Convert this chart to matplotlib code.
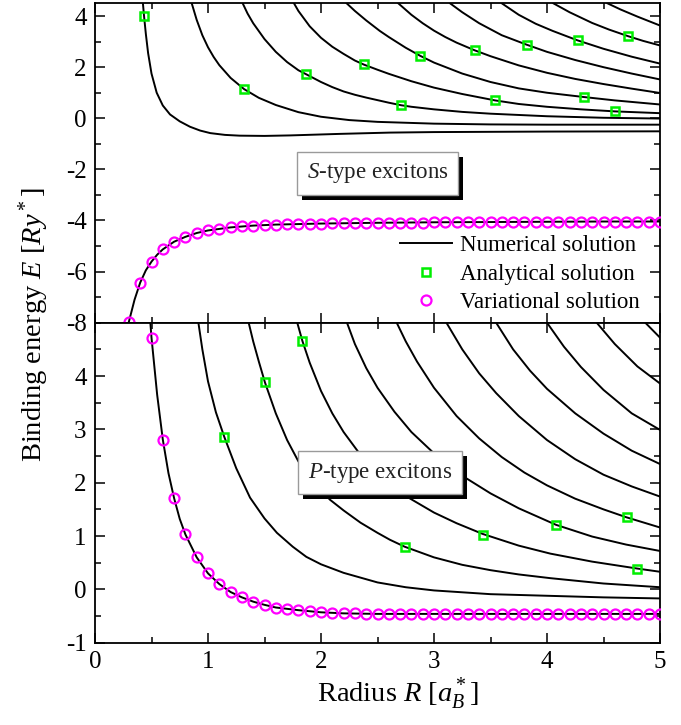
import numpy as np
import matplotlib
matplotlib.use('Agg')
import matplotlib.pyplot as plt
from matplotlib.ticker import MultipleLocator, FixedLocator
from matplotlib.lines import Line2D
from matplotlib.patches import Rectangle
from matplotlib.transforms import IdentityTransform

plt.rcParams['font.family'] = ['Liberation Serif', 'DejaVu Serif']
plt.rcParams['mathtext.fontset'] = 'custom'
plt.rcParams['mathtext.rm'] = 'Liberation Serif'
plt.rcParams['mathtext.it'] = 'Liberation Serif:italic'
plt.rcParams['mathtext.bf'] = 'Liberation Serif:bold'
plt.rcParams['axes.unicode_minus'] = False

# ---------------- S-type (top panel) data ----------------
s_var_R = [0.3, 0.4, 0.5, 0.6, 0.7, 0.8, 0.9, 1.0, 1.1, 1.2, 1.3, 1.4, 1.5, 1.6, 1.7, 1.8,
           1.9, 2.0, 2.1, 2.2, 2.3, 2.4, 2.5, 2.6, 2.7, 2.8, 2.9, 3.0, 3.1, 3.2, 3.3, 3.4,
           3.5, 3.6, 3.7, 3.8, 3.9, 4.0, 4.1, 4.2, 4.3, 4.4, 4.5, 4.6, 4.7, 4.8, 4.9, 5.0]
s_var_E = [-7.96, -6.43, -5.61, -5.13, -4.83, -4.64, -4.49, -4.39, -4.32, -4.27, -4.23, -4.20,
           -4.18, -4.16, -4.15, -4.14, -4.13, -4.12, -4.11, -4.11, -4.10, -4.10, -4.09, -4.09,
           -4.08, -4.08, -4.08, -4.07, -4.07, -4.07, -4.07, -4.06, -4.06, -4.06, -4.06, -4.06,
           -4.05, -4.05, -4.05, -4.05, -4.05, -4.05, -4.04, -4.04, -4.04, -4.04, -4.04, -4.04]
s_gnd_R = [0.28, 0.3, 0.35, 0.4, 0.45, 0.5, 0.55, 0.6, 0.7, 0.8, 0.9, 1.0, 1.2, 1.4, 1.6,
           1.8, 2.0, 2.5, 3.0, 3.5, 4.0, 4.5, 5.0]
s_gnd_E = [-8.4, -7.96, -7.1, -6.43, -5.95, -5.61, -5.34, -5.13, -4.83, -4.64, -4.49, -4.39,
           -4.27, -4.20, -4.16, -4.14, -4.12, -4.09, -4.07, -4.06, -4.05, -4.04, -4.04]

s_a_R = [0.424, 0.434, 0.45, 0.47, 0.50, 0.546, 0.60, 0.664, 0.75, 0.84, 0.93, 1.02, 1.15,
         1.28, 1.50, 1.73, 2.17, 2.61, 3.0, 3.5, 4.0, 5.0]
s_a_E = [4.5, 4.0, 3.3, 2.55, 1.75, 1.0, 0.5, 0.15, -0.12, -0.33, -0.48, -0.58, -0.65,
         -0.68, -0.69, -0.67, -0.61, -0.56, -0.54, -0.53, -0.52, -0.51]
s_b_R = [0.856, 0.9, 0.95, 1.0, 1.05, 1.1, 1.2, 1.32, 1.45, 1.6, 1.8, 2.0, 2.25, 2.5, 3.0,
         3.5, 4.0, 5.0]
s_b_E = [4.5, 3.85, 3.25, 2.78, 2.40, 2.08, 1.58, 1.14, 0.80, 0.52, 0.24, 0.06, -0.07,
         -0.14, -0.21, -0.24, -0.25, -0.25]
s_c_R = [1.307, 1.35, 1.4, 1.5, 1.6, 1.7, 1.8, 1.87, 2.0, 2.1, 2.2, 2.3, 2.4, 2.5, 2.6,
         2.71, 2.8, 3.0, 3.25, 3.5, 4.0, 4.5, 5.0]
s_c_E = [4.5, 4.1, 3.72, 3.1, 2.6, 2.2, 1.88, 1.72, 1.42, 1.22, 1.05, 0.92, 0.81, 0.71,
         0.61, 0.51, 0.45, 0.35, 0.25, 0.18, 0.08, 0.02, -0.01]
s_d_R = [1.761, 1.8, 1.9, 2.0, 2.1, 2.2, 2.3, 2.38, 2.5, 2.6, 2.8, 3.0, 3.25, 3.54, 3.75,
         4.0, 4.3, 4.6, 5.0]
s_d_E = [4.5, 4.2, 3.6, 3.15, 2.8, 2.52, 2.26, 2.10, 1.90, 1.74, 1.45, 1.20, 0.95, 0.70,
         0.56, 0.45, 0.35, 0.27, 0.20]
s_e_R = [2.227, 2.3, 2.4, 2.52, 2.6, 2.75, 2.88, 3.0, 3.25, 3.5, 3.75, 4.0, 4.33, 4.6, 5.0]
s_e_E = [4.5, 4.2, 3.83, 3.42, 3.18, 2.76, 2.44, 2.18, 1.75, 1.42, 1.17, 1.0, 0.83, 0.70, 0.54]
s_f_R = [2.684, 2.8, 2.9, 3.0, 3.1, 3.2, 3.36, 3.5, 3.75, 4.0, 4.25, 4.5, 4.75, 5.0]
s_f_E = [4.5, 4.05, 3.72, 3.43, 3.18, 2.96, 2.66, 2.43, 2.07, 1.78, 1.54, 1.34, 1.16, 0.99]
s_g_R = [3.142, 3.25, 3.4, 3.6, 3.82, 4.0, 4.25, 4.5, 4.75, 5.0]
s_g_E = [4.5, 4.15, 3.72, 3.25, 2.88, 2.6, 2.28, 2.0, 1.75, 1.52]
s_h_R = [3.60, 3.75, 3.9, 4.05, 4.27, 4.5, 4.75, 5.0]
s_h_E = [4.5, 4.05, 3.7, 3.42, 3.05, 2.72, 2.41, 2.14]
s_i_R = [4.056, 4.2, 4.4, 4.55, 4.72, 4.85, 5.0]
s_i_E = [4.5, 4.15, 3.73, 3.47, 3.21, 3.03, 2.85]
s_j_R = [4.535, 4.65, 4.8, 5.0]
s_j_E = [4.5, 4.26, 3.98, 3.63]

s_sq_R = [0.434, 1.32, 1.87, 2.38, 2.88, 3.36, 3.82, 4.27, 4.72, 2.71, 3.54, 4.33, 4.60]
s_sq_E = [4.0, 1.14, 1.72, 2.11, 2.42, 2.66, 2.88, 3.05, 3.21, 0.51, 0.70, 0.83, 0.27]

# ---------------- P-type (bottom panel) data ----------------
p_var_R = [0.5, 0.6, 0.7, 0.8, 0.9, 1.0, 1.1, 1.2, 1.3, 1.4, 1.5, 1.6, 1.7, 1.8, 1.9, 2.0,
           2.1, 2.2, 2.3, 2.4, 2.5, 2.6, 2.7, 2.8, 2.9, 3.0, 3.1, 3.2, 3.3, 3.4, 3.5, 3.6,
           3.7, 3.8, 3.9, 4.0, 4.1, 4.2, 4.3, 4.4, 4.5, 4.6, 4.7, 4.8, 4.9, 5.0]
p_var_E = [4.72, 2.81, 1.71, 1.03, 0.60, 0.30, 0.10, -0.05, -0.15, -0.23, -0.29, -0.34,
           -0.37, -0.39, -0.41, -0.43, -0.44, -0.45, -0.45, -0.46, -0.46, -0.46, -0.46,
           -0.46, -0.46, -0.46, -0.46, -0.46, -0.46, -0.46, -0.46, -0.46, -0.46, -0.46,
           -0.46, -0.46, -0.46, -0.46, -0.46, -0.46, -0.46, -0.46, -0.46, -0.46, -0.46, -0.46]
p_gnd_R = [0.48, 0.5, 0.55, 0.6, 0.65, 0.7, 0.75, 0.8, 0.9, 1.0, 1.1, 1.2, 1.3, 1.4, 1.5,
           1.6, 1.8, 2.0, 2.2, 2.5, 3.0, 4.0, 5.0]
p_gnd_E = [5.27, 4.72, 3.65, 2.81, 2.18, 1.71, 1.32, 1.03, 0.60, 0.30, 0.10, -0.05, -0.15,
           -0.23, -0.29, -0.34, -0.39, -0.43, -0.45, -0.46, -0.46, -0.46, -0.46]

p1_R = [0.915, 0.95, 1.0, 1.07, 1.144, 1.25, 1.372, 1.5, 1.61, 1.75, 1.87, 2.0, 2.2, 2.5,
        2.75, 3.0, 3.5, 4.0, 4.5, 5.0]
p1_E = [5.0, 4.5, 3.9, 3.32, 2.86, 2.27, 1.72, 1.33, 1.06, 0.8, 0.61, 0.47, 0.31, 0.13,
        0.04, -0.02, -0.09, -0.12, -0.15, -0.17]
p2_R = [1.36, 1.4, 1.45, 1.504, 1.6, 1.7, 1.8, 1.9, 2.0, 2.08, 2.2, 2.35, 2.5, 2.61, 2.74,
        3.0, 3.25, 3.5, 3.75, 4.03, 4.5, 5.0]
p2_E = [5.0, 4.65, 4.27, 3.88, 3.3, 2.8, 2.4, 2.1, 1.86, 1.68, 1.48, 1.25, 1.06, 0.93, 0.80,
        0.60, 0.46, 0.36, 0.28, 0.21, 0.11, 0.04]
p3_R = [1.79, 1.835, 1.9, 2.0, 2.1, 2.2, 2.35, 2.5, 2.75, 3.0, 3.2, 3.43, 3.75, 4.03, 4.4,
        4.8, 5.0]
p3_E = [5.0, 4.66, 4.25, 3.72, 3.3, 2.95, 2.52, 2.18, 1.75, 1.44, 1.24, 1.04, 0.82, 0.67,
        0.52, 0.39, 0.33]
p4_R = [2.23, 2.3, 2.4, 2.5, 2.65, 2.8, 3.0, 3.25, 3.5, 3.75, 4.08, 4.4, 4.7, 5.0]
p4_E = [5.0, 4.6, 4.15, 3.78, 3.33, 2.95, 2.55, 2.13, 1.8, 1.52, 1.21, 0.99, 0.84, 0.72]
p5_R = [2.67, 2.75, 2.85, 3.0, 3.2, 3.4, 3.6, 3.8, 4.0, 4.25, 4.5, 4.705, 5.0]
p5_E = [5.0, 4.65, 4.27, 3.78, 3.25, 2.83, 2.48, 2.19, 1.95, 1.7, 1.5, 1.35, 1.16]
p6_R = [3.11, 3.25, 3.4, 3.55, 3.75, 4.0, 4.25, 4.5, 4.75, 5.0]
p6_E = [5.0, 4.5, 4.05, 3.68, 3.25, 2.8, 2.44, 2.15, 1.93, 1.74]
p7_R = [3.55, 3.7, 3.85, 4.0, 4.25, 4.5, 4.75, 5.0]
p7_E = [5.0, 4.5, 4.1, 3.76, 3.3, 2.92, 2.6, 2.35]
p8_R = [4.0, 4.15, 4.3, 4.5, 4.75, 5.0]
p8_E = [5.0, 4.55, 4.17, 3.74, 3.3, 2.99]
p9_R = [4.44, 4.6, 4.8, 5.0]
p9_E = [5.0, 4.6, 4.18, 3.86]
p10_R = [4.87, 5.0]
p10_E = [5.0, 4.72]

p_sq_R = [1.144, 1.504, 1.835, 2.74, 3.43, 4.08, 4.705, 4.80]
p_sq_E = [2.86, 3.88, 4.66, 0.80, 1.02, 1.20, 1.35, 0.375]

x_ticks = [0, 1, 2, 3, 4, 5]
s_yticks = [-8, -6, -4, -2, 0, 2, 4]
p_yticks = [-1, 0, 1, 2, 3, 4]

# ---------------- styles ----------------
LW = 1.4
SQ = dict(ls='none', marker='s', ms=6.2, mfc='none', mec='#00ee00', mew=1.8, zorder=4)
CI = dict(ls='none', marker='o', ms=7.2, mfc='none', mec='#ff00ff', mew=1.6, zorder=4)

W, H = 681, 725
fig = plt.figure(figsize=(W / 100, H / 100), dpi=100)
left, right = 95 / W, 660 / W
ax1 = fig.add_axes([left, 1 - 322.7 / H, right - left, 319.4 / H])
ax2 = fig.add_axes([left, 1 - 642.7 / H, right - left, 320.0 / H])

s_curves = [(s_a_R, s_a_E), (s_b_R, s_b_E), (s_c_R, s_c_E), (s_d_R, s_d_E), (s_e_R, s_e_E),
            (s_f_R, s_f_E), (s_g_R, s_g_E), (s_h_R, s_h_E), (s_i_R, s_i_E), (s_j_R, s_j_E)]
for r, e in s_curves:
    ax1.plot(r, e, color='k', lw=LW, zorder=2)
ax1.plot(s_gnd_R, s_gnd_E, color='k', lw=LW, zorder=2)
ax1.plot(s_var_R, s_var_E, **CI)
ax1.plot(s_sq_R, s_sq_E, **SQ)

p_curves = [(p1_R, p1_E), (p2_R, p2_E), (p3_R, p3_E), (p4_R, p4_E), (p5_R, p5_E),
            (p6_R, p6_E), (p7_R, p7_E), (p8_R, p8_E), (p9_R, p9_E), (p10_R, p10_E)]
for r, e in p_curves:
    ax2.plot(r, e, color='k', lw=LW, zorder=2)
ax2.plot(p_gnd_R, p_gnd_E, color='k', lw=LW, zorder=2)
ax2.plot(p_var_R, p_var_E, **CI)
ax2.plot(p_sq_R, p_sq_E, **SQ)

ax1.set_xlim(0, 5)
ax1.set_ylim(-8, 4.5)
ax2.set_xlim(0, 5)
ax2.set_ylim(-1, 5)

for ax in (ax1, ax2):
    ax.xaxis.set_major_locator(FixedLocator(x_ticks))
    ax.xaxis.set_minor_locator(MultipleLocator(0.5))
    ax.tick_params(which='both', direction='in', top=True, right=True, width=1.1,
                   labelsize=18, pad=6)
    ax.tick_params(which='major', length=7)
    ax.tick_params(which='minor', length=4)
    for sp in ax.spines.values():
        sp.set_linewidth(1.3)

ax1.yaxis.set_major_locator(FixedLocator(s_yticks))
ax1.yaxis.set_minor_locator(MultipleLocator(1))
ax1.tick_params(labelbottom=False)
ax2.yaxis.set_major_locator(FixedLocator(p_yticks))
ax2.yaxis.set_minor_locator(MultipleLocator(0.5))

ax2.set_xlabel(r'Radius $R$ [$a_B^*$]', fontsize=20.5, labelpad=6)
ax2.xaxis.set_label_coords((398 - 95) / 565, -0.105)
fig.text(34 / W, 1 - 325 / H, r'Binding energy $E$ [$Ry^*$]', rotation=90,
         ha='center', va='center', fontsize=20.5)

box_texts = []


def framed(ax, x, y, s):
    t = ax.text(x, y, s, ha='center', va='center', fontsize=16.5, color='#222222',
                bbox=dict(boxstyle='square,pad=0.42', fc='white', ec='#9a9a9a', lw=1.0),
                zorder=7)
    box_texts.append((ax, t))


framed(ax1, 2.5, -2.15, r'$S$-type excitons')
framed(ax2, 2.52, 2.19, r'$P$-type excitons')

handles = [Line2D([], [], color='k', lw=LW),
           Line2D([], [], **{k: v for k, v in SQ.items() if k != 'zorder'}),
           Line2D([], [], **{k: v for k, v in CI.items() if k != 'zorder'})]
labels = ['Numerical solution', 'Analytical solution', 'Variational solution']
ax1.legend(handles, labels, loc='lower right', bbox_to_anchor=(0.985, -0.006), frameon=False,
           fontsize=16.5, handlelength=2.3, handletextpad=0.35, labelspacing=0.33, borderpad=0)

# drop shadows behind the two framed labels (drawn inside the axes, under the frames)
fig.canvas.draw()
renderer = fig.canvas.get_renderer()
for ax, t in box_texts:
    bb = t.get_bbox_patch().get_window_extent(renderer)
    off = 5
    sh = Rectangle((bb.x0 + off, bb.y0 - off), bb.width, bb.height,
                   transform=IdentityTransform(), fc='k', ec='k', lw=0, zorder=6,
                   clip_on=False)
    ax.add_artist(sh)

fig.savefig('out.png', dpi=100)
